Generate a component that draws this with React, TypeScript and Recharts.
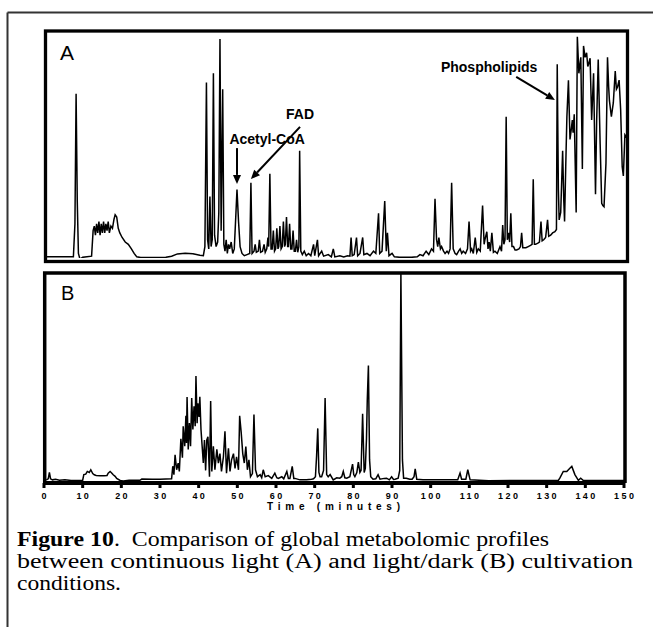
import { LineChart, Line, XAxis, YAxis, ReferenceLine, ReferenceDot } from "recharts"

// Panel A, continuous light: [time (min), signal as % of panel height]
const traceA: [number, number][] = [
  [0, 0.5], [7.6, 0.6], [8.0, 15], [8.3, 72], [8.6, 25], [8.9, 2], [9.3, -0.5], [10, 0.3], [12.3, 0.8],
  [12.7, 12], [13.0, 14], [13.3, 10], [13.6, 15], [13.9, 11], [14.2, 16], [14.5, 10], [14.8, 15], [15.1, 11],
  [15.4, 16], [15.7, 11], [16.0, 15], [16.3, 12], [16.6, 16], [16.9, 11], [17.3, 14], [17.7, 13], [18.1, 17],
  [18.4, 19], [18.8, 18], [19.2, 13], [19.6, 11], [20.2, 9], [21.0, 7], [21.8, 6], [22.6, 4], [23.3, 2],
  [24.0, 0.5], [25, 0.2], [31.5, 0.3], [33, 0.8], [34.5, 1.8], [36.5, 2.1], [38.5, 1.9], [40.3, 1.2], [41.2, 1.0],
  [41.6, 5], [42.0, 77], [42.3, 8], [42.6, 4], [42.9, 27], [43.2, 5], [43.5, 8], [43.8, 81], [44.1, 10],
  [44.5, 5], [44.9, 7], [45.2, 20], [45.5, 96], [45.8, 12], [46.2, 74], [46.5, 6], [46.8, 3], [47.1, 8],
  [47.4, 2], [47.7, 6], [48.0, 4], [48.4, 7], [48.8, 2], [49.2, 4], [49.5, 15], [49.9, 30], [50.3, 16],
  [50.7, 5], [51.2, 2], [51.8, 1], [52.5, 1.5], [53.2, 2], [53.5, 33], [53.8, 2], [54.3, 3], [54.6, 6],
  [54.9, 2.5], [55.4, 3], [55.7, 8], [56.0, 2.5], [56.5, 3], [56.9, 6], [57.2, 2.5], [57.6, 4], [57.9, 9],
  [58.1, 5], [58.4, 37], [58.7, 4], [59.0, 4], [59.3, 12], [59.6, 3], [59.9, 4], [60.2, 13], [60.5, 4],
  [60.7, 5], [61.0, 14], [61.3, 4], [61.6, 5], [61.9, 16], [62.2, 5], [62.4, 6], [62.7, 18], [63.0, 5],
  [63.2, 5], [63.5, 15], [63.8, 4], [64.1, 4], [64.4, 12], [64.7, 3], [65.0, 3], [65.3, 8], [65.6, 2.5],
  [65.9, 5], [66.1, 47], [66.4, 3], [66.8, 1.5], [67.3, 3],
  [67.8, 1], [68.4, 2], [69.0, 1], [69.7, 6], [70.0, 1], [70.7, 8], [71.0, 1], [71.8, 3], [72.3, 0.8],
  [73.5, 1.5], [74.3, 0.5], [74.8, 4], [75.2, 0.5], [76.5, 1], [77.5, 0.5], [78.5, 1], [79.1, 0.8], [79.4, 9],
  [79.7, 1], [80.2, 1.5], [80.8, 9], [81.1, 1], [81.7, 2], [82.4, 9], [82.7, 1.5], [83.5, 2], [84.3, 1],
  [85.2, 3], [85.8, 2], [86.5, 19.6], [86.8, 2], [87.4, 3], [88.1, 25], [88.5, 3], [88.8, 11], [89.2, 1],
  [90.0, 2], [90.6, 0.5], [92, 0.3], [95, 0.3], [96.5, 0.5], [97.2, 1.5], [98.0, 1], [98.8, 3], [99.5, 1.5],
  [100.2, 4], [100.7, 3], [101.1, 26], [101.5, 8], [101.8, 5], [102.1, 9], [102.5, 4], [102.8, 5], [103.3, 3],
  [103.7, 2], [104.2, 3], [104.6, 2], [105.0, 4], [105.4, 33], [105.8, 4], [106.3, 2], [106.7, 1.5], [107.2, 3],
  [107.6, 4], [108.0, 2], [108.4, 3], [109.0, 2], [109.5, 4], [109.9, 16], [110.3, 3], [110.6, 4], [111.0, 2],
  [111.5, 9], [111.9, 2.5], [112.3, 4], [112.8, 3], [113.4, 23], [113.8, 6], [114.0, 8], [114.5, 11.5], [114.8, 4],
  [115.1, 7], [115.4, 3], [115.8, 11], [116.2, 2.5], [116.6, 3], [117.2, 2], [117.9, 5], [118.3, 3], [118.6, 14.5],
  [118.9, 6], [119.2, 8], [119.5, 62], [119.8, 8], [120.1, 11], [120.4, 7], [120.7, 19.6], [121.0, 5], [121.4, 5],
  [121.8, 3.5], [122.2, 3.5], [122.8, 4], [123.2, 5], [123.5, 11], [123.8, 4.5], [124.1, 4.5], [124.6, 4.5], [125.2, 5],
  [125.8, 5.5], [126.2, 6], [126.5, 34.5], [126.8, 6], [127.1, 6], [127.7, 6.5], [128.1, 7], [128.5, 16], [128.8, 7.5],
  [129.2, 8], [129.7, 9], [130.2, 16.7], [130.5, 9.5], [131.0, 10], [131.5, 11], [132.1, 11.5], [132.5, 12.5], [132.7, 85],
  [133.0, 30], [133.2, 16.7], [133.6, 20], [134.1, 47], [134.4, 25], [134.6, 16], [134.9, 40], [135.2, 62], [135.6, 78],
  [136.0, 52], [136.3, 56], [136.6, 60.5], [136.8, 55], [137.1, 63], [137.6, 20], [137.9, 97], [138.3, 81], [138.5, 84],
  [138.8, 88], [139.2, 39], [139.5, 93], [139.9, 88], [140.3, 90], [140.6, 84], [140.8, 85], [141.2, 87.6], [141.6, 60.5],
  [142.1, 81], [142.6, 28], [142.9, 60.5], [143.3, 87], [143.8, 50], [144.2, 24], [144.5, 23], [144.8, 22.5], [145.3, 41.5],
  [145.7, 88], [146.0, 75], [146.2, 69], [146.7, 62], [147.2, 68], [147.7, 82], [148.0, 74], [148.3, 75], [148.7, 78],
  [149.1, 65], [149.5, 40], [149.8, 36], [150.2, 54], [151, 52],
]

// Panel B, light/dark
const traceB: [number, number][] = [
  [0.6, 0.5], [1.1, 1], [1.4, 4], [1.7, 1], [2.2, 0.5], [3, 0.8], [4, 0.3], [5.4, 0.5], [7, 0.2], [10.0, 0.3],
  [10.3, 3], [10.8, 3.2], [11.2, 4.5], [11.7, 4], [12.1, 5.3], [12.6, 3.5], [13.0, 2.9], [13.5, 2.6], [14.5, 2.4],
  [15.5, 2.5], [16.3, 2.6], [16.6, 3.7], [17.1, 4.5], [17.5, 3.8], [17.9, 2.9], [18.4, 2.2], [18.8, 1.2], [19.7, 0.2],
  [20.5, 0], [22, 0.3], [24.8, 0.3], [25.3, 0.9], [28, 0.8], [30, 0.8], [33.0, 1],
  [33.3, 7], [33.6, 3], [33.9, 12.4], [34.3, 5.3], [34.7, 8.5], [35.0, 4.5], [35.4, 20], [35.8, 11], [36.0, 26],
  [36.4, 16.5], [36.7, 31], [36.85, 18], [37.0, 40], [37.3, 15], [37.6, 27.6], [37.9, 16.5], [38.2, 39.5], [38.5, 24.5],
  [38.8, 35.5], [39.1, 26], [39.3, 50], [39.6, 27.5], [39.8, 37], [40.1, 30.5], [40.3, 40], [40.6, 24.5], [40.9, 16.5],
  [41.2, 8.5], [41.5, 19.5], [41.8, 5], [42.1, 19.5], [42.4, 21], [42.8, 2], [43.1, 38], [43.4, 4.5], [43.8, 16.5],
  [44.2, 5.3], [44.7, 15], [45.1, 8.5], [45.5, 13], [45.9, 4.5], [46.4, 11.5], [46.8, 23.6], [47.2, 3.7], [47.7, 15.5],
  [48.1, 4.5], [48.5, 10], [49.0, 13], [49.4, 6], [49.8, 11.5], [50.3, 5.3], [50.6, 31], [51.0, 23], [51.4, 13],
  [51.8, 8.5], [52.2, 16.4], [52.6, 5.3], [53.0, 10], [53.4, 2], [53.9, 3.5], [54.3, 31.6], [54.7, 5.3], [55.2, 2],
  [55.9, 3], [56.3, 1.5], [56.7, 5.3], [57.2, 2], [58.0, 2.5], [58.9, 1.2], [59.7, 3.7], [60.2, 1.5], [60.6, 1.2],
  [61.5, 2], [62.0, 1], [62.8, 4.5], [63.2, 1.2], [63.6, 1.2], [64.2, 6.9], [64.6, 1.2], [64.9, 1.2], [66.2, 0.5],
  [67.9, 0.5], [69.2, 0.8], [69.7, 1], [70.2, 2], [70.5, 12], [70.8, 25], [71.1, 4], [71.4, 2], [71.8, 2],
  [72.3, 5], [72.7, 39.5], [73.1, 3], [73.5, 2], [74.0, 3], [74.8, 0.5], [75.7, 1.5], [76.5, 1.3], [77.0, 2],
  [77.4, 4.5], [77.8, 1.5], [78.3, 1.3], [79.1, 2], [79.8, 8], [80.1, 3], [80.4, 2], [80.9, 4], [81.3, 9],
  [81.7, 4], [82.0, 5], [82.4, 32], [82.8, 4], [83.1, 6], [83.4, 20], [83.6, 38], [83.9, 55], [84.2, 10],
  [84.5, 2], [85.1, 0.8], [85.8, 1], [86.4, 3], [86.9, 0.8], [88.0, 1.2], [88.6, 1.3], [89.3, 0.5], [89.9, 2],
  [90.4, 0.7], [90.8, 0.8], [91.6, 1.3], [92.0, 5], [92.3, 99], [92.7, 10], [93.0, 1.3], [93.7, 1.3], [94.6, 0.8],
  [95.2, 0.8], [95.7, 2], [96.0, 5.7], [96.4, 0.8], [98, 0.5], [107.0, 0.5], [107.6, 3.7], [108.0, 0.8], [109.1, 0.8],
  [109.6, 5.3], [110.2, 0.5], [115, 0.1], [125, 0.2], [133.0, 0.2], [133.4, 1.3], [134.3, 4.5], [135.2, 4.5], [136.0, 6],
  [136.5, 6.9], [137.3, 3], [138.2, 0.3], [138.8, 1.3], [139.5, 0.2], [145, 0.2], [150, 0.2],
]

const timeTicks = [0, 10, 20, 30, 40, 50, 60, 70, 80, 90, 100, 110, 120, 130, 140, 150]

const labelsA = [
  { text: "Phospholipids", t: 115.1, v: 83.8 },
  { text: "FAD", t: 66.2, v: 63.2 },
  { text: "Acetyl-CoA", t: 57.7, v: 52.2 },
]

const arrowsA = [
  { from: [122.1, 79.4], to: [132.1, 69.3] },
  { from: [66.2, 57.5], to: [53.5, 34.6] },
  { from: [49.9, 48.2], to: [49.9, 32.5] },
]

const dataA = traceA.map(([t, v]) => ({ t, v }))
const dataB = traceB.map(([t, v]) => ({ t, v }))

const sans = "'Liberation Sans', Arial, sans-serif"
const serif = "'Liberation Serif', 'Times New Roman', serif"

function Arrow(props: any) {
  const { x1, y1, x2, y2 } = props
  const dx = x2 - x1
  const dy = y2 - y1
  const len = Math.hypot(dx, dy)
  const ux = dx / len
  const uy = dy / len
  const head = 9
  const half = 4
  const bx = x2 - ux * head
  const by = y2 - uy * head
  return (
    <g>
      <line x1={x1} y1={y1} x2={bx} y2={by} stroke="#000" strokeWidth={2} />
      <polygon
        points={`${x2},${y2} ${bx - uy * half},${by + ux * half} ${bx + uy * half},${by - ux * half}`}
        fill="#000"
      />
    </g>
  )
}

function TimeTick({ x, y, payload }: any) {
  return (
    <text
      x={x + 1.2}
      y={y + 9}
      textAnchor="middle"
      fontFamily={sans}
      fontWeight="bold"
      fontSize={9}
      letterSpacing={2.4}
      fill="#000"
    >
      {payload.value}
    </text>
  )
}

export default function App() {
  return (
    <div style={{ position: "absolute", left: 0, top: 0, width: 653, height: 627, background: "#fff", overflow: "hidden" }}>
      <div style={{ position: "absolute", left: 44, top: 30 }}>
        <LineChart width={584} height={228} data={dataA} margin={{ top: 0, right: 0, bottom: 0, left: 0 }}>
          <XAxis dataKey="t" type="number" domain={[0, 151]} hide allowDataOverflow />
          <YAxis type="number" domain={[0, 100]} hide allowDataOverflow />
          <Line type="linear" dataKey="v" stroke="#000" strokeWidth={1.5} dot={false} isAnimationActive={false} />
          {arrowsA.map((a, i) => (
            <ReferenceLine
              key={`arrow-${i}`}
              segment={[{ x: a.from[0], y: a.from[1] }, { x: a.to[0], y: a.to[1] }]}
              shape={(p: any) => <Arrow {...p} />}
            />
          ))}
          {labelsA.map((l) => (
            <ReferenceDot
              key={l.text}
              x={l.t}
              y={l.v}
              r={0}
              shape={(p: any) => (
                <text
                  x={p.cx}
                  y={p.cy}
                  textAnchor="middle"
                  dominantBaseline="central"
                  fontFamily={sans}
                  fontWeight="bold"
                  fontSize={14}
                  fill="#000"
                >
                  {l.text}
                </text>
              )}
            />
          ))}
        </LineChart>
      </div>

      <div style={{ position: "absolute", left: 24, top: 273 }}>
        <LineChart width={620} height={240} data={dataB} margin={{ top: 0, right: 20, bottom: 0, left: 20 }}>
          <XAxis
            dataKey="t"
            type="number"
            domain={[0, 150]}
            ticks={timeTicks}
            interval={0}
            height={30}
            allowDataOverflow
            axisLine={{ stroke: "#000", strokeWidth: 4 }}
            tickLine={{ stroke: "#000", strokeWidth: 3 }}
            tickSize={5}
            tick={<TimeTick />}
          />
          <YAxis type="number" domain={[-1, 99]} hide allowDataOverflow />
          <Line type="linear" dataKey="v" stroke="#000" strokeWidth={1.5} dot={false} isAnimationActive={false} />
        </LineChart>
      </div>

      <svg width={653} height={627} style={{ position: "absolute", left: 0, top: 0, pointerEvents: "none" }}>
        <line x1={7.5} y1={12.5} x2={653} y2={12.5} stroke="#333" strokeWidth={2} />
        <line x1={7.5} y1={12.5} x2={7.5} y2={627} stroke="#333" strokeWidth={2} />
        <rect x={45.5} y={31} width={582} height={230.5} fill="none" stroke="#000" strokeWidth={3.3} />
        <path d="M44.7,483 V273 H625 V483" fill="none" stroke="#000" strokeWidth={3.5} />
        <text x={60} y={60} fontFamily={sans} fontSize={21} fill="#000">A</text>
        <text x={61} y={300} fontFamily={sans} fontSize={20} fill="#000">B</text>
        <text x={267} y={510} fontFamily={sans} fontWeight="bold" fontSize={10} textLength={133} lengthAdjust="spacing" fill="#000">
          Time (minutes)
        </text>
        <text x={17} y={546} fontFamily={serif} fontSize={20} textLength={532} lengthAdjust="spacingAndGlyphs" fill="#000" style={{ whiteSpace: "pre" }}>
          <tspan fontWeight="bold">Figure 10</tspan>.  Comparison of global metabolomic profiles
        </text>
        <text x={17} y={568} fontFamily={serif} fontSize={20} textLength={616} lengthAdjust="spacingAndGlyphs" fill="#000">
          between continuous light (A) and light/dark (B) cultivation
        </text>
        <text x={17} y={590} fontFamily={serif} fontSize={20} textLength={104} lengthAdjust="spacingAndGlyphs" fill="#000">
          conditions.
        </text>
      </svg>
    </div>
  )
}
